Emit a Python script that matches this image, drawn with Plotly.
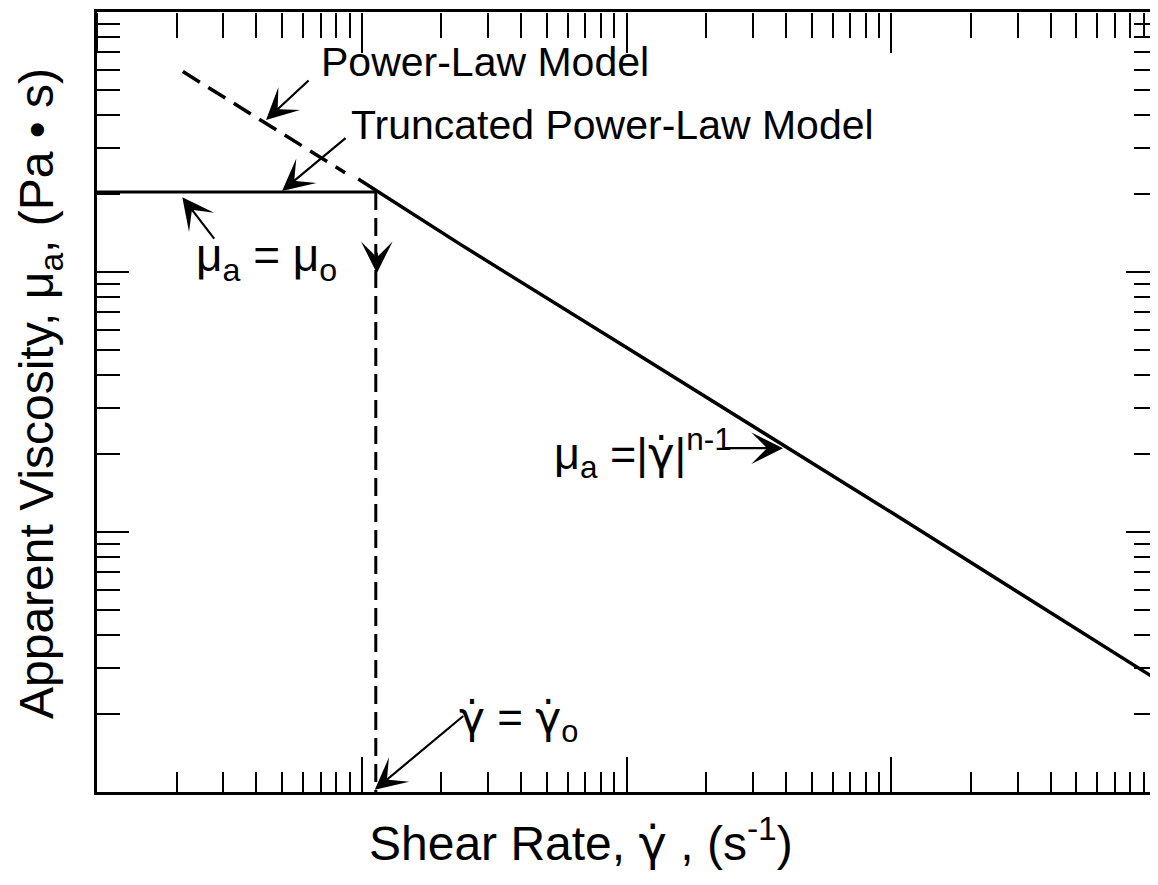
import math
import plotly.graph_objects as go

# ---- data (log-log axes, no numeric labels) ----
x_decades = [1, 10, 100, 1000, 10000]
y_decades = [1, 10, 100, 1000]
minor_digits = [2, 3, 4, 5, 6, 7, 8, 9]

plateau_x = [1, 11.3]          # truncated model: mu_a = mu_o
plateau_y = [203, 203]

power_x = [9.7, 23.5, 100, 1000, 10000]   # solid power-law branch
power_y = [228, 128, 51.2, 11.9, 2.72]

power_dash_x = [2.11, 8.65]    # dashed extension of power-law model
power_dash_y = [590, 241]

gamma0_x = [11.3, 11.3]        # vertical dashed line at gamma_o
gamma0_y = [203, 1]

FONT = "Liberation Sans, Arial, Helvetica, sans-serif"
GD = "<span style='font-family:DejaVu Sans'>γ̇</span>"   # gamma-dot

x_minor = [d * k for d in x_decades[:-1] for k in minor_digits]
y_minor = [d * k for d in y_decades[:-1] for k in minor_digits]

fig = go.Figure()
fig.add_trace(go.Scatter(x=plateau_x, y=plateau_y, mode="lines",
                         line=dict(color="black", width=3), showlegend=False, hoverinfo="skip"))
fig.add_trace(go.Scatter(x=power_x, y=power_y, mode="lines",
                         line=dict(color="black", width=3.5), showlegend=False, hoverinfo="skip"))
fig.add_trace(go.Scatter(x=power_dash_x, y=power_dash_y, mode="lines",
                         line=dict(color="black", width=3.5, dash="20px,10px"),
                         showlegend=False, hoverinfo="skip"))
fig.add_trace(go.Scatter(x=gamma0_x, y=gamma0_y, mode="lines",
                         line=dict(color="black", width=3, dash="18px,8px"),
                         showlegend=False, hoverinfo="skip"))
# invisible carrier traces for the extra tick axes
for xa, ya in [("x2", "y"), ("x3", "y"), ("x4", "y"), ("x", "y2")]:
    fig.add_trace(go.Scatter(x=plateau_x, y=plateau_y, mode="lines", xaxis=xa, yaxis=ya,
                             line=dict(color="rgba(0,0,0,0)", width=0), showlegend=False,
                             hoverinfo="skip"))

lg = math.log10

def ann_arrow(tip_x, tip_y, ax, ay):
    fig.add_annotation(x=lg(tip_x), y=lg(tip_y), xref="x", yref="y", text="",
                       showarrow=True, ax=ax, ay=ay, arrowhead=3, arrowsize=2.4,
                       arrowwidth=2.2, arrowcolor="black", standoff=0)

# arrows: tip in data coords, tail as pixel offset
ann_arrow(4.35, 384, 44, -41)     # Power-Law Model
ann_arrow(5.0, 205, 65, -54)      # Truncated Power-Law Model
ann_arrow(2.1, 194, 33, 43)       # mu_a = mu_o
ann_arrow(11.2, 1.02, 90, -75)    # gamma = gamma_o
ann_arrow(390, 21.0, -60, 0)      # mu_a = |gamma|^(n-1)
ann_arrow(11.4, 99, 0, -22)       # arrowhead on the vertical dashed line

def ann_text(px, py, text, size=41, anchor="left", angle=0):
    fig.add_annotation(x=(px - 97) / 1059, y=(792 - py) / 780, xref="paper", yref="paper",
                       text=text, showarrow=False, xanchor=anchor, yanchor="middle",
                       textangle=angle, borderpad=0,
                       font=dict(family=FONT, size=size, color="black"))

ann_text(320, 62, "Power-Law Model")
ann_text(350, 125, "Truncated Power-Law Model")
ann_text(195, 258, "μ<sub>a</sub> = μ<sub>o</sub>", size=46)
ann_text(458, 720, GD + " = " + GD + "<sub>o</sub>", size=44)
ann_text(553, 453, "μ<sub>a</sub> =|" + GD + "|<sup>n-1</sup>", size=45)
# axis titles
ann_text(581, 840, "Shear Rate, " + GD + " , (s<sup>-1</sup>)", size=48, anchor="center")
ann_text(40, 394, "Apparent Viscosity, μ<sub>a</sub>, (Pa • s)", size=48,
         anchor="center", angle=-90)

base = dict(type="log", showgrid=False, zeroline=False, tickwidth=2, tickcolor="black",
            showticklabels=False, tickmode="array", automargin=False)

fig.update_layout(
    # bottom: decade ticks (long) on x, digit ticks (short) on x3
    xaxis=dict(**base, range=[0, 4], tickvals=x_decades, ticks="inside", ticklen=35,
               showline=True, linecolor="black", linewidth=3, mirror=True),
    xaxis3=dict(**base, range=[0, 4], tickvals=x_minor, ticks="inside", ticklen=20,
                overlaying="x", side="bottom", anchor="y", showline=False),
    # top: bottom-sided axes placed on the top edge so their ticks point down
    xaxis2=dict(**base, range=[0, 4], tickvals=x_decades, ticks="outside", ticklen=40,
                overlaying="x", side="bottom", anchor="free", position=1.0, showline=False),
    xaxis4=dict(**base, range=[0, 4], tickvals=x_minor, ticks="outside", ticklen=25,
                overlaying="x", side="bottom", anchor="free", position=1.0, showline=False),
    yaxis=dict(**base, range=[0, 3], tickvals=y_decades, ticks="inside", ticklen=32,
               minor=dict(ticks="inside", ticklen=23, tickwidth=2, tickcolor="black",
                          tickmode="array", tickvals=y_minor),
               showline=True, linecolor="black", linewidth=3, mirror=True),
    yaxis2=dict(**base, range=[0, 3], tickvals=y_decades, ticks="inside", ticklen=30,
                minor=dict(ticks="inside", ticklen=22, tickwidth=2, tickcolor="black",
                           tickmode="array", tickvals=y_minor),
                overlaying="y", side="right", anchor="x", showline=False),
    # page body adds an 8 px offset, so the figure is sized to the visible area
    width=1150, height=877, margin=dict(l=89, r=2, t=4, b=93),
    plot_bgcolor="white", paper_bgcolor="white",
    font=dict(family=FONT, color="black"),
)

fig.write_html("out.html")
